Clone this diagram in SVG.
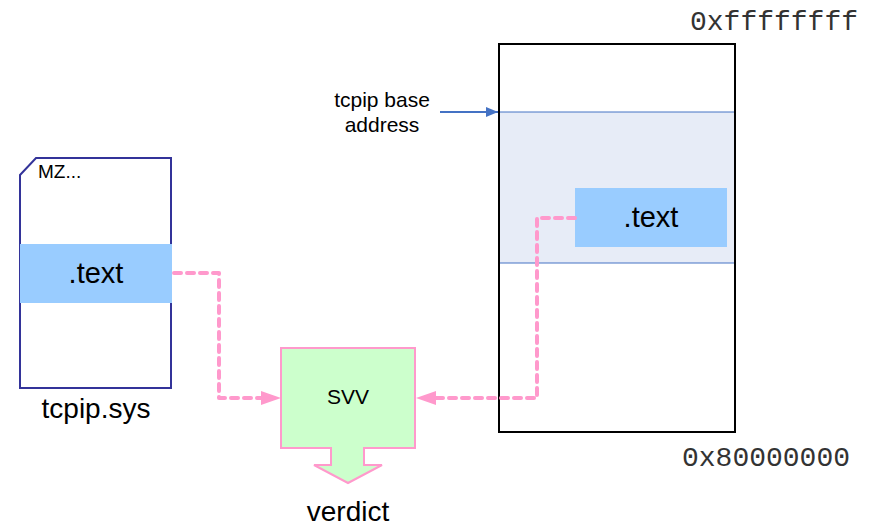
<svg xmlns="http://www.w3.org/2000/svg" width="872" height="526" viewBox="0 0 872 526">
<style>
.sans{font-family:"Liberation Sans",Arial,sans-serif;fill:#000}
.mono{font-family:"Liberation Mono","Courier New",monospace;fill:#333}
.band{fill:#99ccff}
.conn{fill:none;stroke:#ff99cc;stroke-width:4;stroke-dasharray:7,6;stroke-linecap:round;stroke-linejoin:round}
</style>
<defs>
<marker id="blueArrow" viewBox="0 0 12 10" refX="12" refY="5" markerWidth="12" markerHeight="10" markerUnits="userSpaceOnUse" orient="auto">
<path d="M0,0 L12,5 L0,10 Z" fill="#4472c4"/>
</marker>
</defs>
<rect width="872" height="526" fill="#fff"/>
<g id="file">
<path d="M20,175 L36,158 L171,158 L171,388 L20,388 Z" fill="#fff" stroke="#333399" stroke-width="2"/>
<rect class="band" x="20" y="244" width="152" height="59"/>
<text class="sans" x="38" y="178" font-size="19">MZ...</text>
<text class="sans" x="96" y="283" font-size="29" text-anchor="middle">.text</text>
<text class="sans" x="96" y="418" font-size="28" text-anchor="middle">tcpip.sys</text>
</g>
<g id="memory">
<rect x="499" y="44" width="236" height="388" fill="#fff" stroke="#000" stroke-width="2"/>
<rect x="500" y="112" width="234" height="151" fill="#e7ecf7"/>
<line x1="500" y1="112" x2="734" y2="112" stroke="#4472c4" stroke-width="1"/>
<line x1="500" y1="263" x2="734" y2="263" stroke="#4472c4" stroke-width="1"/>
<rect class="band" x="575" y="188" width="152" height="59"/>
<text class="sans" x="651" y="227" font-size="29" text-anchor="middle">.text</text>
<text class="mono" x="858" y="30" font-size="28" text-anchor="end">0xffffffff</text>
<text class="mono" x="850" y="466" font-size="28" text-anchor="end">0x80000000</text>
</g>
<g id="base-label">
<text class="sans" x="382" y="107" font-size="21" text-anchor="middle">tcpip base</text>
<text class="sans" x="382" y="132" font-size="21" text-anchor="middle">address</text>
</g>
<g id="svv">
<path d="M281,348 L415,348 L415,448 L364,448 L364,465 L382,465 L348,483 L314,465 L331,465 L331,448 L281,448 Z" fill="#ccffcc" stroke="#ff99cc" stroke-width="2"/>
<text class="sans" x="348" y="404" font-size="21" text-anchor="middle">SVV</text>
<text class="sans" x="348" y="521" font-size="28" text-anchor="middle">verdict</text>
</g>
<g id="connectors">
<path class="conn" d="M174,273 L219,273 L219,398 L262,398"/>
<path d="M261,391 L281,398 L261,405 Z" fill="#ff99cc"/>
<path class="conn" d="M575,218 L537,218 L537,398 L436,398"/>
<path d="M436,391 L416,398 L436,405 Z" fill="#ff99cc"/>
<line x1="440" y1="112" x2="498" y2="112" stroke="#4472c4" stroke-width="2" marker-end="url(#blueArrow)"/>
</g>
</svg>
